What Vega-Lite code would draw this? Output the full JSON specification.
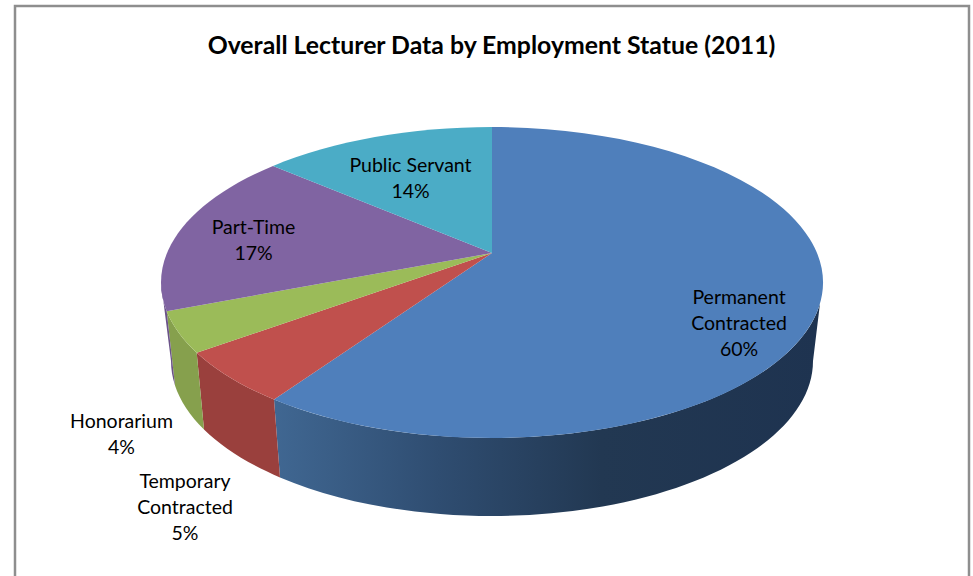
{
  "$schema": "https://vega.github.io/schema/vega-lite/v6.json",
  "width": 973,
  "height": 510,
  "autosize": "none",
  "padding": {"left": 0, "right": 0, "top": 66, "bottom": 0},
  "background": "white",
  "config": {"view": {"stroke": null}},
  "title": {"text": "Overall Lecturer Data by Employment Statue (2011)", "font": "Lato", "fontSize": 24.8, "fontWeight": "bold", "color": "black", "anchor": "middle", "dx": 5, "dy": 66, "offset": 8},
  "data": {"values": [
    {"category": "Permanent Contracted", "value": 60, "label": "Permanent|Contracted|60%"},
    {"category": "Temporary Contracted", "value": 5, "label": "Temporary|Contracted|5%"},
    {"category": "Honorarium", "value": 4, "label": "Honorarium|4%"},
    {"category": "Part-Time", "value": 17, "label": "Part-Time|17%"},
    {"category": "Public Servant", "value": 14, "label": "Public Servant|14%"}
  ]},
  "resolve": {"scale": {"shape": "independent", "fill": "independent"}},
  "layer": [
    {
      "data": {"values": [{"element": "chart border"}]},
      "mark": {"type": "point", "shape": "M-471.5 260 L-471.5 -315 L482.5 -315 L482.5 260", "size": 4, "filled": false, "stroke": "#8e8e8e", "strokeWidth": 2.5, "opacity": 1},
      "encoding": {}
    },
    {
      "transform": [{"filter": "datum.category === 'Permanent Contracted'"}],
      "mark": {"type": "point", "shape": "M333.5 -17.6 A331 155.5 0 0 1 -212.5 78.5 L-206.5 156.4 A321 155 0 0 0 326.5 40 Z", "size": 4, "filled": true, "opacity": 1, "stroke": null,
        "fill": {"gradient": "linear", "x1": 0, "y1": 0, "x2": 1, "y2": 0, "stops": [
          {"offset": 0, "color": "#406792"},
          {"offset": 0.3, "color": "#2f4d71"},
          {"offset": 0.6, "color": "#223852"},
          {"offset": 1, "color": "#1e3350"}
        ]}},
      "encoding": {}
    },
    {
      "transform": [{"filter": "datum.category !== 'Permanent Contracted' && datum.category !== 'Public Servant'"}],
      "mark": {"type": "point", "size": 4, "filled": true, "opacity": 1, "stroke": null},
      "encoding": {
        "shape": {"field": "category", "type": "nominal", "legend": null, "scale": {
          "domain": ["Temporary Contracted", "Honorarium", "Part-Time"],
          "range": [
            "M-212.5 78.5 A331 155.5 0 0 1 -289.8 31.75 L-282.5 108.4 A321 155 0 0 0 -206.5 156.4 Z",
            "M-289.8 31.75 A331 155.5 0 0 1 -319.8 -9.8 L-311.5 64.4 A321 155 0 0 0 -282.5 108.4 Z",
            "M-319.8 -9.8 A331 155.5 0 0 1 -325.5 -38.5 L-315.5 40 A321 155 0 0 0 -311.5 64.4 Z"
          ]}},
        "fill": {"field": "category", "type": "nominal", "legend": null, "scale": {
          "domain": ["Temporary Contracted", "Honorarium", "Part-Time"],
          "range": ["#9a403d", "#86a04d", "#6b5389"]}}
      }
    },
    {
      "mark": {"type": "point", "size": 4, "filled": true, "opacity": 1, "stroke": null},
      "encoding": {
        "shape": {"field": "category", "type": "nominal", "legend": null, "scale": {
          "domain": ["Permanent Contracted", "Temporary Contracted", "Honorarium", "Part-Time", "Public Servant"],
          "range": [
            "M5.5 -68 L5.5 -194 A331 155.5 0 1 1 -212.5 78.5 Z",
            "M5.5 -68 L-212.5 78.5 A331 155.5 0 0 1 -289.8 31.75 Z",
            "M5.5 -68 L-289.8 31.75 A331 155.5 0 0 1 -319.8 -9.8 Z",
            "M5.5 -68 L-319.8 -9.8 A331 155.5 0 0 1 -213.5 -155.1 Z",
            "M5.5 -68 L-213.5 -155.1 A331 155.5 0 0 1 5.5 -194 Z"
          ]}},
        "fill": {"field": "category", "type": "nominal", "legend": null, "scale": {
          "domain": ["Permanent Contracted", "Temporary Contracted", "Honorarium", "Part-Time", "Public Servant"],
          "range": ["#4f7fbb", "#c0504d", "#9bbb59", "#8064a2", "#4bacc6"]}}
      }
    },
    {
      "mark": {"type": "text", "font": "Lato", "fontSize": 19.5, "color": "black", "align": "center", "baseline": "middle", "lineHeight": 26, "lineBreak": "|"},
      "encoding": {
        "text": {"field": "label", "type": "nominal"},
        "x": {"field": "value", "type": "quantitative", "axis": null, "scale": {"domain": [4, 5, 14, 17, 60], "range": [121.5, 185, 410.5, 253.5, 739]}},
        "y": {"field": "value", "type": "quantitative", "axis": null, "scale": {"domain": [4, 5, 14, 17, 60], "range": [356, 416, 100, 162, 232]}}
      }
    }
  ]
}
